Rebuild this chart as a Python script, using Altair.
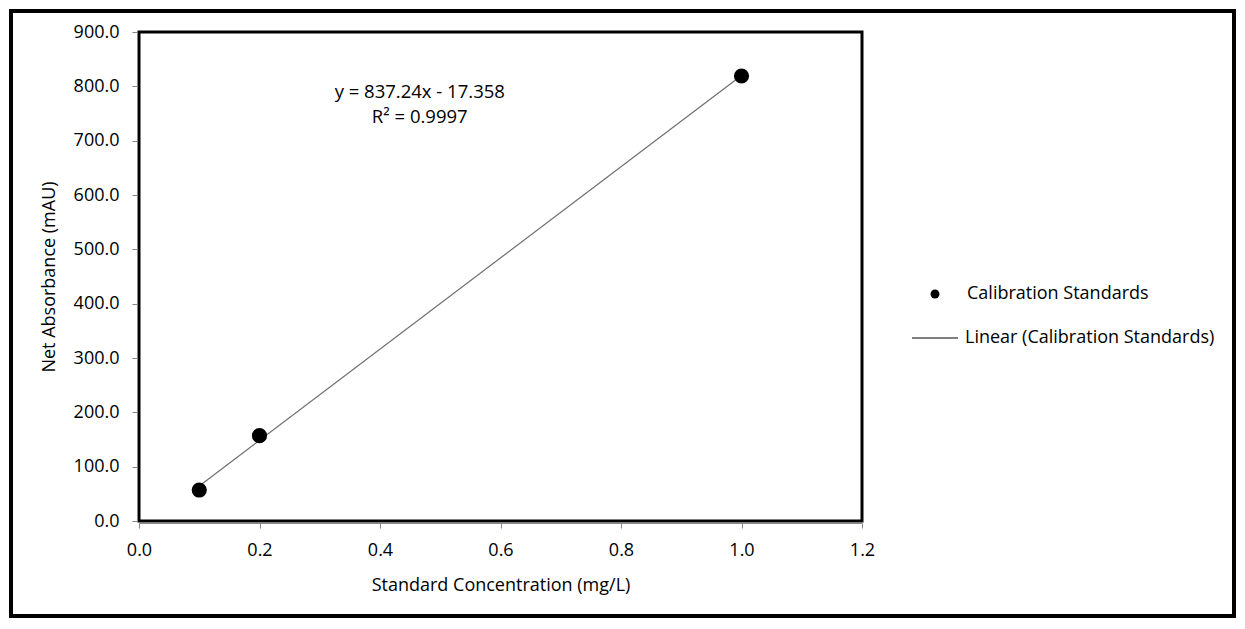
import altair as alt
import pandas as pd

conc = [0.1, 0.2, 1.0]
absorb = [57.0, 157.0, 819.0]
series_point = "Calibration Standards"
series_line = "Linear (Calibration Standards)"
eq_lines = ["y = 837.24x - 17.358", "R² = 0.9997"]
eq_x = [0.466, 0.466]
eq_y = [790.0, 744.0]

FONT = "Open Sans"
FS = 18
W, H = 723, 489
PAD = {"left": 131, "top": 24, "right": 375, "bottom": 98}

df = pd.DataFrame({"conc": conc, "abs": absorb})
eq_df = pd.DataFrame({"t": eq_lines, "x": eq_x, "y": eq_y})

xs = alt.Scale(domain=[0, 1.2], nice=False, zero=False)
ys = alt.Scale(domain=[0, 900], nice=False, zero=False)

xaxis = alt.Axis(values=[0, 0.2, 0.4, 0.6, 0.8, 1.0, 1.2], format=".1f", grid=False,
                 domainColor="#868686", tickColor="#868686", tickSize=5, offset=2,
                 labelFlush=False,
                 labelFont=FONT, labelFontSize=FS, labelColor="#000", labelPadding=13,
                 title="Standard Concentration (mg/L)", titleFont=FONT, titleFontSize=FS,
                 titleFontWeight="normal", titleColor="#000", titlePadding=17)
yaxis = alt.Axis(values=list(range(0, 901, 100)), format=".1f", grid=False,
                 domainColor="#868686", tickColor="#868686", tickSize=5, offset=2,
                 labelFlush=False,
                 labelFont=FONT, labelFontSize=FS, labelColor="#000", labelPadding=13,
                 title="Net Absorbance (mAU)", titleFont=FONT, titleFontSize=FS,
                 titleFontWeight="normal", titleColor="#000", titlePadding=15)

base = alt.Chart(df)

line = base.transform_regression("conc", "abs", extent=[0.1, 1.0]).mark_line(
    color="#6e6e6e", strokeWidth=1.2
).encode(x=alt.X("conc:Q", scale=xs, axis=xaxis), y=alt.Y("abs:Q", scale=ys, axis=yaxis))

pts = base.mark_circle(color="#000", opacity=1, size=230).encode(
    x=alt.X("conc:Q", scale=xs), y=alt.Y("abs:Q", scale=ys))

eq = alt.Chart(eq_df).mark_text(font=FONT, fontSize=18.5, color="#000", align="center",
                                baseline="middle").encode(
    x=alt.X("x:Q", scale=xs), y=alt.Y("y:Q", scale=ys), text="t:N")

# legend
leg_pt = alt.Chart(pd.DataFrame({"a": [0]})).mark_circle(color="#000", opacity=1, size=80).encode(
    x=alt.value(796), y=alt.value(262))
leg_rule = alt.Chart(pd.DataFrame({"a": [0]})).mark_rule(color="#000", strokeWidth=1).encode(
    x=alt.value(773), x2=alt.value(819), y=alt.value(306))
leg_txt = alt.Chart(pd.DataFrame({"t": [series_point, series_line], "px": [828, 826], "py": [262, 306]})).mark_text(
    font=FONT, fontSize=FS, color="#000", align="left", baseline="middle").encode(
    x=alt.X("px:Q", scale=None), y=alt.Y("py:Q", scale=None), text="t:N")

border = alt.Chart(pd.DataFrame({"a": [0]})).mark_rect(
    filled=False, stroke="#000", strokeWidth=4, clip=False).encode(
    x=alt.value(-PAD["left"] + 3), x2=alt.value(W + PAD["right"] - 3),
    y=alt.value(-PAD["top"] + 3), y2=alt.value(H + PAD["bottom"] - 3))

chart = alt.layer(line, pts, eq, leg_pt, leg_rule, leg_txt, border).properties(
    width=W, height=H, padding=PAD, autosize=alt.AutoSizeParams(type="none"),
    background="white"
).configure_view(stroke="#000", strokeWidth=3)

chart.save("out.html", embed_options={"renderer": "svg", "actions": False})
